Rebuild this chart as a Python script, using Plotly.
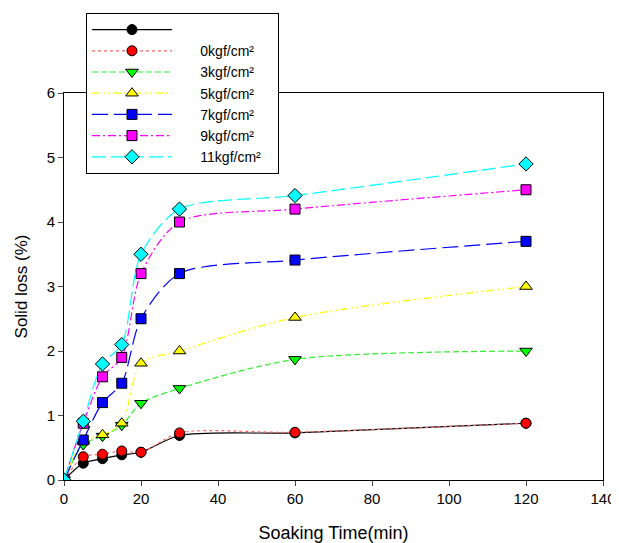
import plotly.graph_objects as go

time_min = [0, 5, 10, 15, 20, 30, 60, 120]

s_black = [0, 0.26, 0.33, 0.39, 0.43, 0.69, 0.73, 0.88]
s_0 = [0, 0.36, 0.40, 0.45, 0.43, 0.73, 0.74, 0.88]
s_3 = [0, 0.55, 0.68, 0.85, 1.19, 1.42, 1.87, 2.0]
s_5 = [0, 0.60, 0.70, 0.88, 1.81, 2.0, 2.52, 3.0]
s_7 = [0, 0.62, 1.2, 1.5, 2.5, 3.2, 3.41, 3.7]
s_9 = [0, 0.88, 1.6, 1.9, 3.2, 4.0, 4.2, 4.5]
s_11 = [0, 0.91, 1.8, 2.1, 3.5, 4.2, 4.41, 4.9]

names = ["", "0kgf/cm²", "3kgf/cm²", "5kgf/cm²", "7kgf/cm²", "9kgf/cm²", "11kgf/cm²"]
series = [s_black, s_0, s_3, s_5, s_7, s_9, s_11]
colors = ["#000000", "#ff0000", "#00ff00", "#ffff00", "#0000ff", "#ff00ff", "#00ffff"]
line_colors = ["#000000", "#ff6666", "#33ee33", "#ffff00", "#0000ff", "#ff00ff", "#00ffff"]
symbols = ["circle", "circle", "triangle-down", "triangle-up", "square", "square", "diamond"]
dashes = ["solid", "dot", "6px,3px", "8px,3px,2px,3px,2px,3px", "16px,6px", "8px,3px,2px,3px", "14px,5px"]
sizes = [10, 10, 11, 11, 10, 10, 11]

pad_l = "\u00a0" * 6
pad_r = "\u00a0" * 3

# page body has an 8px default margin; the figure is sized to fit the window
OFF = 8
W, H = 619 - OFF, 543 - OFF
L, R, T, B = 64 - OFF, 16, 93 - OFF, 63
plot_w = W - L - R
plot_h = H - T - B

fig = go.Figure()
for nm, ys, c, lc, sym, d, sz in zip(names, series, colors, line_colors, symbols, dashes, sizes):
    fig.add_trace(go.Scatter(
        x=time_min, y=ys, name=pad_l + nm + pad_r if nm else "\u00a0",
        mode="lines+markers",
        line=dict(color=lc, width=1.2, dash=d, shape="spline", smoothing=0.8),
        marker=dict(symbol=sym, size=sz, color=c, line=dict(color="#000000", width=1)),
    ))

fig.update_layout(
    width=W, height=H,
    margin=dict(l=L, r=R, t=T, b=B, autoexpand=False),
    paper_bgcolor="white", plot_bgcolor="white",
    font=dict(family="Liberation Sans, Arial", color="#000000", size=15),
    showlegend=True,
    legend=dict(
        x=(86 - 64) / plot_w, y=(480 - 13) / plot_h, xanchor="left", yanchor="top",
        bgcolor="white", bordercolor="#000000", borderwidth=1,
        font=dict(size=14), itemwidth=80, tracegroupgap=0,
    ),
    xaxis=dict(
        range=[0, 140], dtick=20, ticks="outside", ticklen=5, automargin=False,
        showline=True, linecolor="#000000", linewidth=1, mirror=True,
        showgrid=False, zeroline=False,
        title=dict(text="Soaking Time(min)", font=dict(size=18), standoff=20),
        tickfont=dict(size=15),
    ),
    yaxis=dict(
        range=[0, 6], dtick=1, ticks="outside", ticklen=5, automargin=False,
        showline=True, linecolor="#000000", linewidth=1, mirror=True,
        showgrid=False, zeroline=False,
        title=dict(text="Solid loss (%)", font=dict(size=17), standoff=14),
        tickfont=dict(size=15),
    ),
)

fig.write_html("out.html")
